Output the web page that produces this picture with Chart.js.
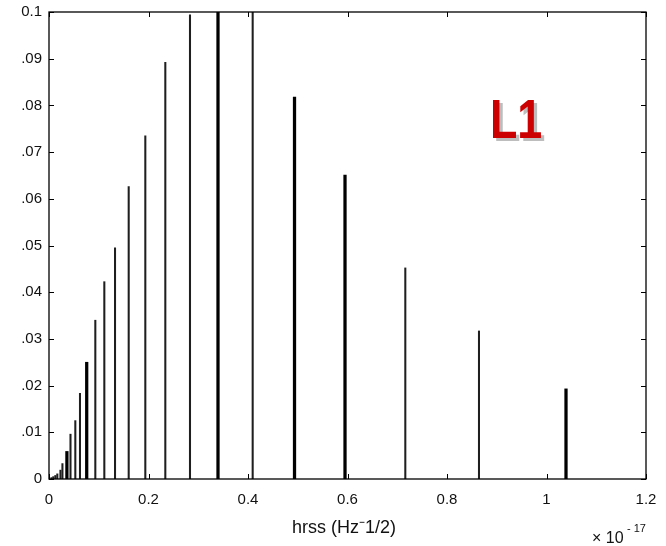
<!DOCTYPE html>
<html><head><meta charset="utf-8">
<script src="https://cdn.jsdelivr.net/npm/chart.js@4"></script>
<style>html,body{margin:0;padding:0;background:#fff}#wrap{width:666px;height:546px;position:relative}</style>
</head><body><div id="wrap"><canvas id="c" width="666" height="546"></canvas></div>
<script>
// hrss values in units of 1e-17
const thinX = [0.005, 0.0086, 0.0127, 0.0167, 0.023, 0.027, 0.0432, 0.0529, 0.0623, 0.0931, 0.1112, 0.1327, 0.1602, 0.1936, 0.2338, 0.2834, 0.4094, 0.7162, 0.8643];
const thinY = [0.0003, 0.0005, 0.00075, 0.0011, 0.0019, 0.0033, 0.0096, 0.0125, 0.01835, 0.034, 0.04225, 0.0495, 0.0626, 0.0735, 0.0892, 0.0994, 0.1, 0.0452, 0.0317];
const thickX = [0.036, 0.0758, 0.3397, 0.4935, 0.595, 1.0392];
const thickY = [0.0059, 0.025, 0.1, 0.0818, 0.0651, 0.0193];
const xTicks = [0, 0.2, 0.4, 0.6, 0.8, 1.0, 1.2];
const xTickLabels = ['0', '0.2', '0.4', '0.6', '0.8', '1', '1.2'];
const yTicks = [0, 0.01, 0.02, 0.03, 0.04, 0.05, 0.06, 0.07, 0.08, 0.09, 0.1];
const yTickLabels = ['0', '.01', '.02', '.03', '.04', '.05', '.06', '.07', '.08', '.09', '0.1'];
const xTitle = 'hrss (Hz\u207B1/2)';
const detName = 'L1';

Chart.defaults.font.family = '"Liberation Sans", Arial, sans-serif';
Chart.defaults.font.size = 15;
Chart.defaults.color = '#111';

const target = { left: 49, top: 12, right: 646, bottom: 479 };

const frame = {
  id: 'frame',
  afterDraw(chart) {
    const ctx = chart.ctx, a = chart.chartArea;
    const xs = chart.scales.x, ys = chart.scales.y;
    ctx.save();
    ctx.strokeStyle = '#000';
    ctx.lineWidth = 1.3;
    ctx.strokeRect(a.left, a.top, a.right - a.left, a.bottom - a.top);
    const L = 5;
    ctx.beginPath();
    xTicks.forEach(v => {
      const p = Math.round(xs.getPixelForValue(v)) + 0.5;
      ctx.moveTo(p, a.bottom); ctx.lineTo(p, a.bottom - L);
      ctx.moveTo(p, a.top); ctx.lineTo(p, a.top + L);
    });
    yTicks.forEach(v => {
      const p = Math.round(ys.getPixelForValue(v)) + 0.5;
      ctx.moveTo(a.left, p); ctx.lineTo(a.left + L, p);
      ctx.moveTo(a.right, p); ctx.lineTo(a.right - L, p);
    });
    ctx.lineWidth = 1;
    ctx.stroke();
    // axis title
    ctx.fillStyle = '#111';
    ctx.font = '18px "Liberation Sans", Arial, sans-serif';
    ctx.textAlign = 'center';
    ctx.textBaseline = 'middle';
    ctx.fillText(xTitle, 344, 528);
    // exponent
    ctx.textAlign = 'left';
    ctx.font = '16px "Liberation Sans", Arial, sans-serif';
    ctx.fillText('\u00D7 10', 592, 539);
    ctx.font = '11px "Liberation Sans", Arial, sans-serif';
    ctx.fillText('- 17', 627, 529);
    // detector label
    ctx.save();
    ctx.font = 'bold 56px "Liberation Sans", Arial, sans-serif';
    ctx.textBaseline = 'alphabetic';
    ctx.translate(490, 138);
    ctx.scale(0.8, 1);
    ctx.fillStyle = '#bdbdbd';
    ctx.fillText(detName, 4, 3);
    ctx.fillStyle = '#cc0000';
    ctx.fillText(detName, 0, 0);
    ctx.restore();
    ctx.restore();
  }
};

const pad = { top: 12, right: 20, left: 0, bottom: 0 };
const chart = new Chart(document.getElementById('c'), {
  type: 'bar',
  data: {
    datasets: [
      { data: thinX.map((x, i) => ({ x, y: thinY[i] })), backgroundColor: '#1f1f1f', barThickness: 1.4, borderWidth: 0, grouped: false },
      { data: thickX.map((x, i) => ({ x, y: thickY[i] })), backgroundColor: '#000', barThickness: 2.6, borderWidth: 0, grouped: false }
    ]
  },
  options: {
    responsive: false,
    animation: false,
    devicePixelRatio: 1,
    layout: { padding: pad },
    plugins: { legend: { display: false }, tooltip: { enabled: false } },
    scales: {
      x: {
        type: 'linear', min: 0, max: 1.2, offset: false,
        afterBuildTicks: s => { s.ticks = xTicks.map(v => ({ value: v })); },
        afterFit: s => { s.height = 67; s.paddingLeft = 0; s.paddingRight = 0; },
        grid: { display: false, drawTicks: false },
        border: { display: false },
        ticks: { padding: 12, maxRotation: 0, autoSkip: false,
          callback: v => { const i = xTicks.findIndex(t => Math.abs(t - v) < 1e-9); return i >= 0 ? xTickLabels[i] : ''; } }
      },
      y: {
        min: 0, max: 0.1,
        afterBuildTicks: s => { s.ticks = yTicks.map(v => ({ value: v })); },
        afterFit: s => { s.width = 49; s.paddingTop = 0; s.paddingBottom = 0; },
        grid: { display: false, drawTicks: false },
        border: { display: false },
        ticks: { padding: 7, autoSkip: false,
          callback: v => { const i = yTicks.findIndex(t => Math.abs(t - v) < 1e-9); return i >= 0 ? yTickLabels[i] : ''; } }
      }
    }
  },
  plugins: [frame]
});
// correct chart area to the measured target
const a = chart.chartArea;
const dTop = target.top - a.top, dRight = a.right - target.right, dBottom = a.bottom - target.bottom;
if (dTop || dRight || dBottom) {
  chart.options.layout.padding = { top: pad.top + dTop, right: pad.right + dRight, left: pad.left, bottom: pad.bottom + dBottom };
  chart.update();
}
</script></body></html>
